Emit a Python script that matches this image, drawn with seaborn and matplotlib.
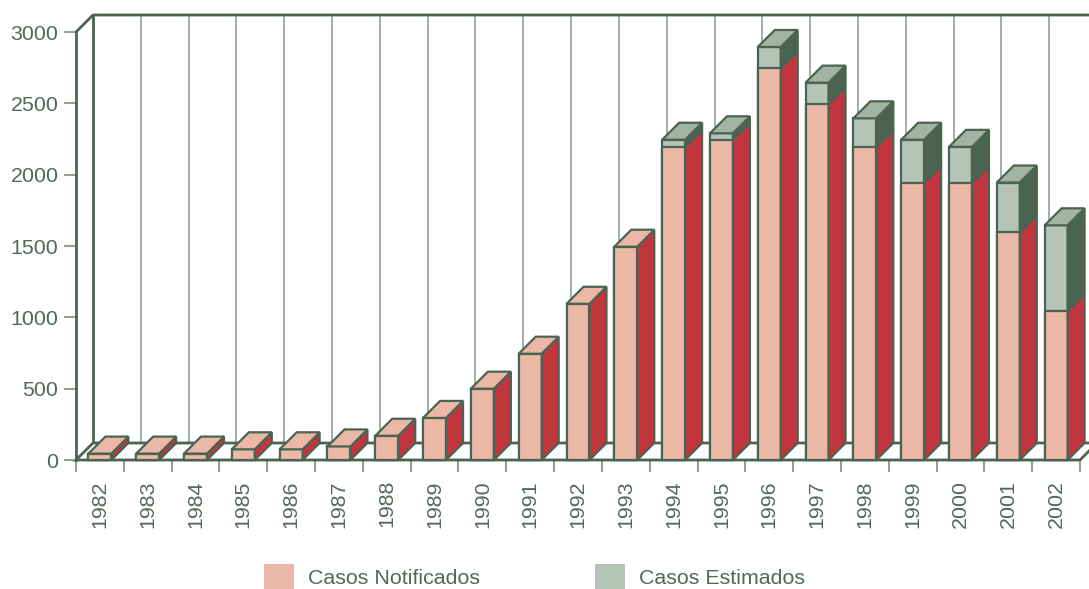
import numpy as np
import pandas as pd
import matplotlib
matplotlib.use("Agg")
import matplotlib.pyplot as plt
from matplotlib.patches import Polygon, Patch
import seaborn as sns

years = [str(y) for y in range(1982, 2003)]
notificados = [45, 45, 45, 75, 75, 95, 170, 295, 500, 745, 1095, 1495,
               2195, 2245, 2745, 2495, 2195, 1945, 1945, 1595, 1045]
estimados = [0, 0, 0, 0, 0, 0, 0, 0, 0, 0, 0, 0,
             50, 45, 150, 150, 200, 300, 250, 350, 600]
y_ticks = [0, 500, 1000, 1500, 2000, 2500, 3000]
legend_labels = ["Casos Notificados", "Casos Estimados"]

df = pd.DataFrame({"year": years, "notificados": notificados, "estimados": estimados})
df["total"] = df["notificados"] + df["estimados"]

# colores
PINK = "#ebb8a8"
RED = "#c1353f"
GREY = "#b4c4b5"
GREY_TOP = "#a3b3a4"
DARK = "#4a6451"
LIGHT = "#8ea392"
TEXT = "#4f6a57"
FS = 15.4

sns.set_style("white")
plt.rcParams["font.family"] = ["Liberation Sans", "DejaVu Sans"]

W, H = 1089, 589
fig = plt.figure(figsize=(W / 100, H / 100), dpi=100)
ax = fig.add_axes([76 / W, (H - 460) / H, 1004 / W, 428 / H])

sns.barplot(data=df, x="year", y="total", order=years, color=GREY, saturation=1,
            width=0.48, edgecolor=DARK, linewidth=1.6, ax=ax, zorder=2)
sns.barplot(data=df, x="year", y="notificados", order=years, color=PINK, saturation=1,
            width=0.48, edgecolor=DARK, linewidth=1.6, ax=ax, zorder=2)

n = len(years)
ax.set_xlim(-0.5, n - 0.5)
ax.set_ylim(0, 3000)
ax.set_xlabel("")
ax.set_ylabel("")
for b in ax.patches:
    b.set_clip_on(False)

# profundidad 3D en unidades de datos
depth_px = 17
p0 = ax.transData.transform((0, 0))
p1 = ax.transData.transform((1, 1000))
dx = depth_px / (p1[0] - p0[0])
dy = depth_px / (p1[1] - p0[1]) * 1000

# pared del fondo y suelo
ax.vlines(np.arange(n) + 0.5 + dx, dy, 3000 + dy, color=LIGHT, lw=1.2,
          zorder=0.5, clip_on=False)
ax.plot([-0.5 + dx, -0.5 + dx], [dy, 3000 + dy], color=DARK, lw=2, zorder=0.6, clip_on=False)
ax.plot([-0.5, -0.5 + dx, n + 2], [3000, 3000 + dy, 3000 + dy], color=DARK, lw=2,
        zorder=0.6, clip_on=False)
floor = Polygon([(-0.5, 0), (n - 0.5, 0), (n - 0.5 + dx, dy), (-0.5 + dx, dy)],
                closed=True, facecolor="white", edgecolor=DARK, lw=2,
                zorder=0.7, clip_on=False)
ax.add_patch(floor)

# caras laterales y superiores
pink_bars = ax.containers[1]
for i, bar in enumerate(pink_bars):
    xl = bar.get_x()
    xr = xl + bar.get_width()
    nv = notificados[i]
    tv = nv + estimados[i]
    side = Polygon([(xr, 0), (xr + dx, dy), (xr + dx, nv + dy), (xr, nv)],
                   facecolor=RED, edgecolor=DARK, lw=1.6, zorder=2, clip_on=False)
    ax.add_patch(side)
    if estimados[i] > 0:
        side2 = Polygon([(xr, nv), (xr + dx, nv + dy), (xr + dx, tv + dy), (xr, tv)],
                        facecolor=DARK, edgecolor=DARK, lw=1.6, zorder=2, clip_on=False)
        ax.add_patch(side2)
    top = Polygon([(xl, tv), (xr, tv), (xr + dx, tv + dy), (xl + dx, tv + dy)],
                  facecolor=GREY_TOP if estimados[i] > 0 else PINK,
                  edgecolor=DARK, lw=1.6, zorder=2, clip_on=False)
    ax.add_patch(top)

# ejes
for s in ["top", "right", "bottom"]:
    ax.spines[s].set_visible(False)
ax.spines["left"].set_color(DARK)
ax.spines["left"].set_linewidth(2)
ax.spines["left"].set_zorder(3)

ax.set_yticks(y_ticks)
ax.set_yticklabels([str(v) for v in y_ticks])
ax.tick_params(axis="y", left=True, length=8.6, width=1.5, color=LIGHT, pad=4,
               labelsize=FS, labelcolor=TEXT)

ax.set_xticks(range(n))
ax.set_xticklabels(years, rotation=90)
ax.set_xticks(np.arange(n + 1) - 0.5, minor=True)
ax.tick_params(axis="x", which="major", length=0, pad=14.5, labelsize=FS, labelcolor=TEXT)
ax.tick_params(axis="x", which="minor", bottom=True, length=8.6, width=1.5,
               color=LIGHT, direction="out")
ax.grid(False)

handles = [Patch(facecolor=PINK, edgecolor="none"), Patch(facecolor=GREY, edgecolor="none")]
fig.legend(handles, legend_labels, loc="center left", bbox_to_anchor=(264 / W, 1 - 577 / H),
           ncol=2, frameon=False, fontsize=FS, labelcolor=TEXT,
           handlelength=1.4, handleheight=1.5, handletextpad=0.65, columnspacing=5.4,
           borderpad=0, borderaxespad=0)

fig.savefig("out.png", dpi=100)
